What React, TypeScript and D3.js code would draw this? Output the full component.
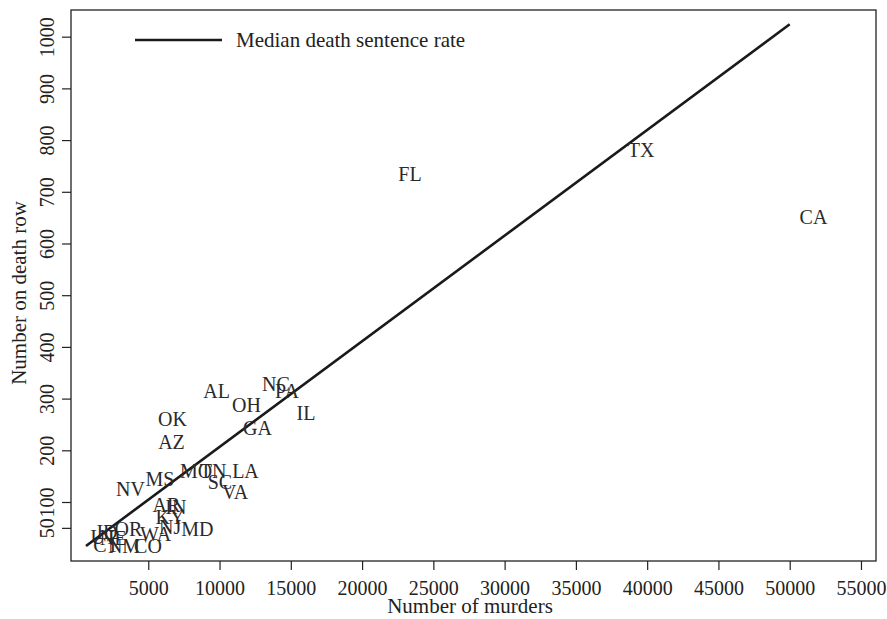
import { useEffect, useRef } from "react";
import * as d3 from "d3";

// state labels with (murders, death row) positions
const states = ["CA", "TX", "FL", "NC", "PA", "AL", "OH", "IL", "OK", "GA", "AZ", "MS", "NV", "MO", "TN", "LA", "SC", "VA", "AR", "IN", "KY", "NJ", "MD", "OR", "WA", "ID", "UT", "NE", "CT", "NM", "CO"];
const murders = [51670, 39570, 23360, 13960, 14730, 9790, 11890, 16070, 6700, 12660, 6630, 5820, 3750, 8350, 9550, 11820, 10030, 11090, 6280, 6930, 6520, 6530, 8450, 3610, 5510, 2100, 1890, 2530, 2040, 3300, 4980];
const deathRow = [651, 781, 733, 327, 314, 314, 287, 271, 259, 242, 215, 144, 124, 159, 159, 159, 138, 119, 93, 90, 70, 51, 47, 47, 37, 42, 32, 30, 17, 14, 14];

// median death sentence rate line end points
const lineMurders = [630, 50000];
const lineDeathRow = [15, 1024];

const xTicks = [5000, 10000, 15000, 20000, 25000, 30000, 35000, 40000, 45000, 50000, 55000];
const yTicks = [50, 100, 200, 300, 400, 500, 600, 700, 800, 900, 1000];

const width = 887;
const height = 619;
const plotLeft = 71;
const plotRight = 876;
const plotTop = 10;
const plotBottom = 561;
const font = "'Liberation Serif', 'Times New Roman', serif";
const ink = "#222";

export default function App() {
  const ref = useRef<SVGSVGElement>(null);

  const x = d3.scaleLinear().domain([-421, 56054]).range([plotLeft, plotRight]);
  const y = d3.scaleLinear().domain([-14.1, 1051.6]).range([plotBottom, plotTop]);

  useEffect(() => {
    const svg = d3.select(ref.current);
    const xAxis = d3.axisBottom(x).tickValues(xTicks).tickSize(9).tickSizeOuter(0).tickFormat(d3.format("d"));
    const yAxis = d3.axisLeft(y).tickValues(yTicks).tickSize(9).tickSizeOuter(0).tickFormat(d3.format("d"));

    const gx = svg.select<SVGGElement>(".x-axis").call(xAxis);
    gx.select(".domain").remove();
    gx.selectAll("line").attr("stroke", ink).attr("stroke-width", 1.2);
    gx.selectAll("text")
      .attr("font-family", font)
      .attr("font-size", 20)
      .attr("fill", ink)
      .attr("y", 34)
      .attr("dy", 0);

    const gy = svg.select<SVGGElement>(".y-axis").call(yAxis);
    gy.select(".domain").remove();
    gy.selectAll("line").attr("stroke", ink).attr("stroke-width", 1.2);
    gy.selectAll<SVGTextElement, number>("text")
      .attr("font-family", font)
      .attr("font-size", 20)
      .attr("fill", ink)
      .attr("x", null)
      .attr("dy", 0)
      .attr("text-anchor", "middle")
      .attr("transform", "translate(-17.5,0) rotate(-90)");
  }, []);

  const line = d3
    .line<number>()
    .x((d) => x(d))
    .y((_, i) => y(lineDeathRow[i]));

  return (
    <svg
      ref={ref}
      width={width}
      height={height}
      style={{ position: "absolute", left: 0, top: 0, background: "#fff" }}
    >
      <rect x={0} y={0} width={width} height={height} fill="#fff" />
      <rect
        x={plotLeft}
        y={plotTop}
        width={plotRight - plotLeft}
        height={plotBottom - plotTop}
        fill="none"
        stroke={ink}
        strokeWidth={1.3}
      />
      <g className="x-axis" transform={`translate(0,${plotBottom})`} />
      <g className="y-axis" transform={`translate(${plotLeft},0)`} />

      <path d={line(lineMurders) ?? ""} fill="none" stroke="#1a1a1a" strokeWidth={2.6} />

      <g fontFamily={font} fontSize={20} fill="#2a2a2a" textAnchor="middle">
        {states.map((s, i) => (
          <text key={s} x={x(murders[i])} y={y(deathRow[i])} dy="0.33em">
            {s}
          </text>
        ))}
      </g>

      {/* legend */}
      <line x1={135} x2={222} y1={40} y2={40} stroke="#1a1a1a" strokeWidth={2.4} />
      <text x={236} y={40} dy="0.33em" fontFamily={font} fontSize={21} fill={ink}>
        Median death sentence rate
      </text>

      {/* axis titles */}
      <text x={470} y={613} textAnchor="middle" fontFamily={font} fontSize={21} fill={ink}>
        Number of murders
      </text>
      <text
        transform={`translate(26,293) rotate(-90)`}
        textAnchor="middle"
        fontFamily={font}
        fontSize={21}
        fill={ink}
      >
        Number on death row
      </text>
    </svg>
  );
}
